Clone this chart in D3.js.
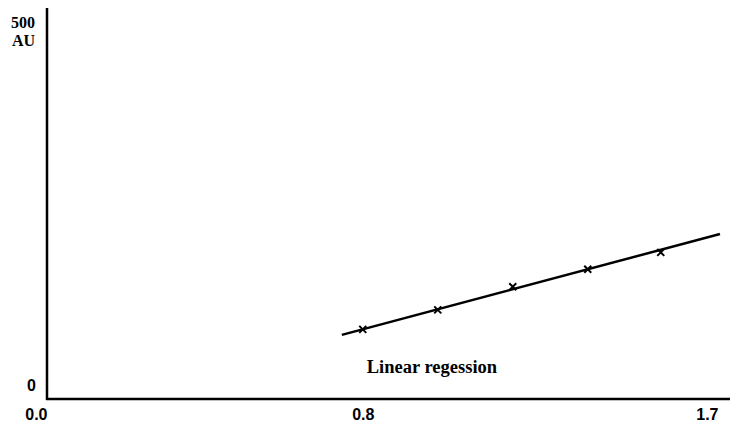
<!DOCTYPE html>
<html>
<head>
  <title>Linear regression</title>
  <style>
    body { margin: 0; background: #fff; }
    svg { display: block; }
  </style>
</head>
<body>

  <script src="https://cdn.jsdelivr.net/npm/d3@7"></script>
  <script type="text/javascript">

  // data
  var xTicks   = [0.0, 0.8, 1.7],
      yTicks   = [0, 500],
      yUnit    = 'AU',
      pointsX  = [0.80, 0.99, 1.18, 1.37, 1.555],
      pointsY  = [89, 114, 143.5, 166, 187.5],
      fitX     = [0.747, 1.705],
      fitY     = [82, 211],
      caption  = 'Linear regession';

  var width = 730, height = 423,
      x0 = 47, y0 = 399, yTop = 8;

  var svg = d3.select('body')
              .append('svg')
              .attr('width', width)
              .attr('height', height);

  var x = d3.scaleLinear().domain([0, 1.7]).range([x0, 718]),
      y = d3.scaleLinear().domain([0, 500]).range([y0, yTop]);

  // labels under the x axis are cut off in the scan
  svg.append('clipPath').attr('id', 'cut')
     .append('rect').attr('x', 0).attr('y', 0).attr('width', width).attr('height', 416);

  // x axis
  var xAxis = svg.append('g')
     .attr('transform', 'translate(0,' + y0 + ')')
     .attr('clip-path', 'url(#cut)')
     .call(d3.axisBottom(x).tickValues(xTicks).tickSize(0).tickPadding(0)
             .tickFormat(d3.format('.1f')));
  xAxis.select('.domain').remove();
  xAxis.selectAll('text')
     .attr('dy', null)
     .attr('y', 21)
     .attr('fill', '#000')
     .attr('font-family', '"Liberation Sans", Arial, sans-serif')
     .attr('font-weight', 'bold')
     .attr('font-size', 16)
     .attr('text-anchor', function(d, i){ return i === 1 ? 'middle' : 'end'; });

  svg.append('line')
     .attr('x1', x0 - 1).attr('x2', width)
     .attr('y1', y0).attr('y2', y0)
     .attr('stroke', '#000').attr('stroke-width', 2.5);

  // y axis
  svg.append('line')
     .attr('x1', x0).attr('x2', x0)
     .attr('y1', y(500)).attr('y2', y0 + 1)
     .attr('stroke', '#000').attr('stroke-width', 2.5);

  svg.append('text')
     .attr('x', 36).attr('y', y(0) - 8)
     .attr('text-anchor', 'end')
     .attr('font-family', '"Liberation Sans", Arial, sans-serif')
     .attr('font-weight', 'bold')
     .attr('font-size', 16)
     .text(yTicks[0]);

  svg.append('text')
     .attr('x', 35).attr('y', y(500) + 20)
     .attr('text-anchor', 'end')
     .attr('font-family', '"Liberation Serif", "Times New Roman", serif')
     .attr('font-weight', 'bold')
     .attr('font-size', 16)
     .text(yTicks[1]);

  svg.append('text')
     .attr('x', 35).attr('y', y(500) + 38)
     .attr('text-anchor', 'end')
     .attr('font-family', '"Liberation Serif", "Times New Roman", serif')
     .attr('font-weight', 'bold')
     .attr('font-size', 16)
     .text(yUnit);

  // regression line
  svg.append('path')
     .datum(d3.zip(fitX, fitY))
     .attr('d', d3.line().x(function(d){ return x(d[0]); }).y(function(d){ return y(d[1]); }))
     .attr('fill', 'none')
     .attr('stroke', '#000')
     .attr('stroke-width', 2.5);

  // measured points as small crosses
  var r = 3.5;
  svg.selectAll('path.pt')
     .data(d3.zip(pointsX, pointsY))
     .enter()
     .append('path')
     .attr('class', 'pt')
     .attr('d', function(d){
        var cx = x(d[0]), cy = y(d[1]);
        return 'M' + (cx - r) + ',' + (cy - r) + 'L' + (cx + r) + ',' + (cy + r) +
               'M' + (cx - r) + ',' + (cy + r) + 'L' + (cx + r) + ',' + (cy - r);
     })
     .attr('stroke', '#000')
     .attr('stroke-width', 2);

  svg.append('text')
     .attr('x', x(0.81))
     .attr('y', 373)
     .attr('font-family', '"Liberation Serif", "Times New Roman", serif')
     .attr('font-weight', 'bold')
     .attr('font-size', 18.5)
     .text(caption);

  </script>
</body>
</html>
